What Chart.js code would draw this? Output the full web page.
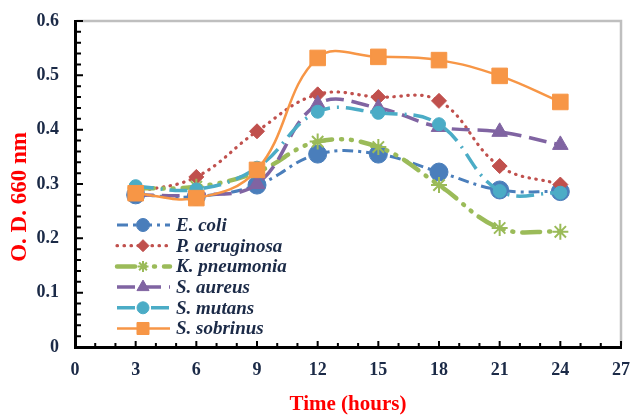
<!DOCTYPE html>
<html><head><meta charset="utf-8">
<script src="https://cdn.jsdelivr.net/npm/chart.js@4.4.1/dist/chart.umd.min.js"></script>
<style>html,body{margin:0;padding:0;background:#fff;}canvas{display:block;}</style>
</head><body>
<canvas id="c" width="633" height="415"></canvas>
<script>
// ---- data ----
const hours = [3, 6, 9, 12, 15, 18, 21, 24];
const seriesNames = ['E. coli', 'P. aeruginosa', 'K. pneumonia', 'S. aureus', 'S. mutans', 'S. sobrinus'];
const eColi        = [0.280, 0.277, 0.298, 0.355, 0.355, 0.322, 0.289, 0.286];
const pAeruginosa  = [0.285, 0.313, 0.397, 0.465, 0.460, 0.453, 0.333, 0.299];
const kPneumonia   = [0.292, 0.295, 0.322, 0.378, 0.368, 0.298, 0.219, 0.212];
const sAureus      = [0.280, 0.280, 0.300, 0.447, 0.440, 0.405, 0.396, 0.372];
const sMutans      = [0.296, 0.290, 0.330, 0.433, 0.431, 0.410, 0.287, 0.284];
const sSobrinus    = [0.283, 0.274, 0.326, 0.532, 0.534, 0.528, 0.499, 0.451];
const xTicks = [0, 3, 6, 9, 12, 15, 18, 21, 24, 27];
const xTickLabels = ['0', '3', '6', '9', '12', '15', '18', '21', '24', '27'];
const yTicks = [0, 0.1, 0.2, 0.3, 0.4, 0.5, 0.6];
const yTickLabels = ['0', '0.1', '0.2', '0.3', '0.4', '0.5', '0.6'];
const xTitle = 'Time (hours)';
const yTitle = 'O. D. 660 nm';

// ---- styles ----
const seriesValues = [eColi, pAeruginosa, kPneumonia, sAureus, sMutans, sSobrinus];
const styles = [
  {color:'#4a7ebb', dash:[11,5,3,5], width:3, cap:'butt', point:'circle', r:9, bw:1, lr:6.5},
  {color:'#c0504d', dash:[0.5,6.5], width:3.2, cap:'round', point:'rectRot', r:7.5, bw:1, lr:6},
  {color:'#9bbb59', dash:[18,9,1,9,1,9], width:4.5, cap:'round', point:'star', r:8, bw:2, lr:5.5},
  {color:'#8064a2', dash:[18,8], width:3.5, cap:'butt', point:'triangle', r:9, bw:1, lr:7},
  {color:'#4bacc6', dash:[18,7,2,7], width:3.5, cap:'butt', point:'circle', r:6.5, bw:1, lr:6},
  {color:'#f79646', dash:[], width:2.5, cap:'butt', point:'rect', r:11, bw:1, lr:8.5}
];
const tickColor = '#1b2a47';
const serif = "'Liberation Serif', 'Times New Roman', serif";

const datasets = seriesNames.map((name, i) => ({
  label: name,
  data: hours.map((h, k) => ({x: h, y: seriesValues[i][k]})),
  borderColor: styles[i].color,
  backgroundColor: styles[i].color,
  borderWidth: styles[i].width,
  borderDash: styles[i].dash,
  borderCapStyle: styles[i].cap,
  pointStyle: styles[i].point,
  pointRadius: styles[i].r,
  pointBorderWidth: styles[i].bw,
  pointBorderColor: styles[i].color,
  pointBackgroundColor: styles[i].color,
  tension: 0.4,
  fill: false,
  order: seriesNames.length - i
}));

const frameTicks = {
  id: 'frameTicks',
  beforeDatasetsDraw(chart) {
    const {ctx, chartArea: a, scales: {x, y}} = chart;
    ctx.save();
    ctx.strokeStyle = '#bfbfbf'; ctx.lineWidth = 2.5;
    ctx.beginPath(); ctx.moveTo(a.left + 1.5, a.top); ctx.lineTo(a.right, a.top); ctx.lineTo(a.right, a.bottom - 1.5); ctx.stroke();
    ctx.strokeStyle = '#000'; ctx.lineWidth = 2;
    ctx.beginPath();
    for (let v = x.min; v <= x.max; v += 1) {
      const px = x.getPixelForValue(v);
      const len = (v % 3 === 0) ? 6 : 4;
      ctx.moveTo(px, a.bottom); ctx.lineTo(px, a.bottom - len);
    }
    for (let k = 0; k <= 30; k++) {
      const py = y.getPixelForValue(k * 0.02);
      const len = (k % 5 === 0) ? 8 : 6;
      ctx.moveTo(a.left, py); ctx.lineTo(a.left + len, py);
    }
    ctx.stroke();
    ctx.restore();
  },
  afterDraw(chart) {
    const {ctx} = chart;
    ctx.save();
    ctx.translate(20, 197);
    ctx.rotate(-Math.PI / 2);
    ctx.font = 'bold 23px ' + serif;
    ctx.fillStyle = '#ff0000';
    ctx.textAlign = 'center'; ctx.textBaseline = 'middle';
    ctx.fillText(yTitle, 0, 0);
    ctx.restore();
    // legend
    ctx.save();
    const x0 = 117, x1 = 170, xm = 143, tx = 176, y0 = 225, dy = 20.7;
    chart.data.datasets.forEach((ds, i) => {
      const s = styles[i];
      const yy = y0 + i * dy;
      ctx.save();
      ctx.strokeStyle = s.color; ctx.lineWidth = s.width; ctx.lineCap = s.cap;
      ctx.setLineDash(s.dash);
      ctx.beginPath(); ctx.moveTo(x0, yy); ctx.lineTo(x1, yy); ctx.stroke();
      ctx.restore();
      ctx.save();
      ctx.fillStyle = s.color; ctx.strokeStyle = s.color; ctx.lineWidth = s.bw;
      Chart.helpers.drawPoint(ctx, {pointStyle: s.point, rotation: 0, radius: s.lr, borderWidth: s.bw}, xm, yy);
      ctx.restore();
      ctx.font = 'italic bold 19px ' + serif;
      ctx.fillStyle = tickColor;
      ctx.textAlign = 'left'; ctx.textBaseline = 'middle';
      ctx.fillText(ds.label, tx, yy + 1);
    });
    ctx.restore();
  }
};

new Chart(document.getElementById('c'), {
  type: 'line',
  data: {datasets},
  options: {
    responsive: false,
    animation: false,
    devicePixelRatio: 1,
    layout: {padding: {left: 0, right: 11, top: 21, bottom: 0}},
    plugins: {legend: {display: false}, tooltip: {enabled: false}},
    scales: {
      x: {
        type: 'linear', min: 0, max: 27,
        afterBuildTicks: s => { s.ticks = xTicks.map(v => ({value: v})); },
        afterFit: s => { s.height = 68; s.paddingLeft = 0; s.paddingRight = 0; },
        ticks: {
          callback: (v) => xTickLabels[xTicks.indexOf(v)],
          font: {family: serif, size: 18, weight: 'bold'},
          color: tickColor, padding: 13, maxRotation: 0, autoSkip: false
        },
        grid: {display: false, drawTicks: false},
        border: {display: true, color: '#000', width: 3},
        title: {display: true, text: xTitle, color: '#ff0000',
          font: {family: serif, size: 21, weight: 'bold', lineHeight: 1},
          padding: {top: 0, bottom: 0}}
      },
      y: {
        type: 'linear', min: 0, max: 0.6,
        afterBuildTicks: s => { s.ticks = yTicks.map(v => ({value: v})); },
        afterFit: s => { s.width = 75; s.paddingTop = 0; s.paddingBottom = 0; },
        ticks: {
          callback: (v) => yTickLabels[yTicks.findIndex(t => Math.abs(t - v) < 1e-9)],
          font: {family: serif, size: 18, weight: 'bold'},
          color: tickColor, padding: 16
        },
        grid: {display: false, drawTicks: false},
        border: {display: true, color: '#000', width: 3}
      }
    }
  },
  plugins: [frameTicks]
});
</script>
</body></html>
